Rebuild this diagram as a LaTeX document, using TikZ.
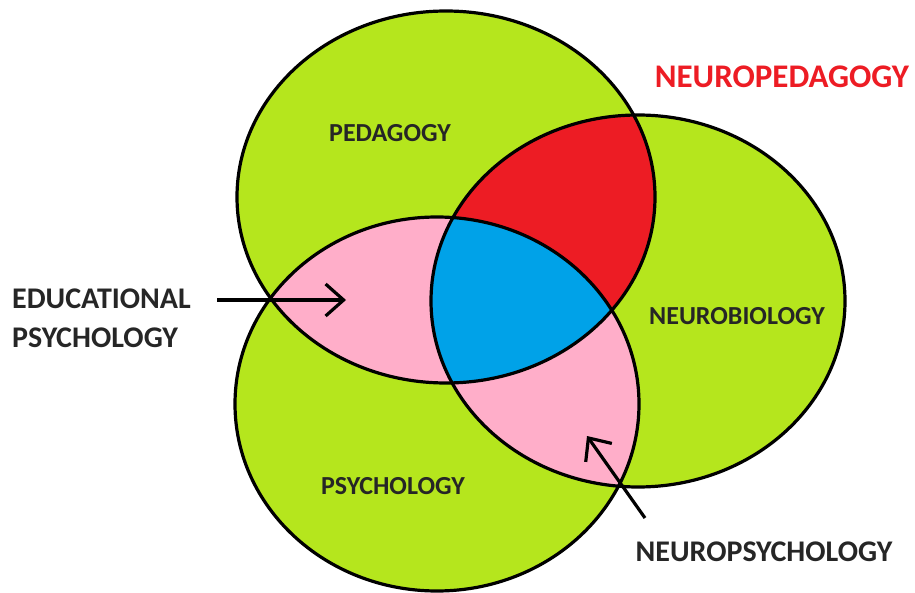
\documentclass[tikz,border=0pt]{standalone}
\usepackage{fontspec}
\setmainfont{Carlito}
\usetikzlibrary{arrows.meta}

\definecolor{lime}{RGB}{181,230,29}
\definecolor{paintred}{RGB}{237,28,36}
\definecolor{paintblue}{RGB}{0,162,232}
\definecolor{paintpink}{RGB}{255,174,201}
\definecolor{labelgray}{RGB}{38,38,38}

\def\pedagogy{(446,197) ellipse [x radius=209pt, y radius=186pt]}
\def\neurobio{(638,301) ellipse [x radius=207pt, y radius=186pt]}
\def\psychology{(437,404) ellipse [x radius=202pt, y radius=187pt]}

\begin{document}
\begin{tikzpicture}[x=1pt, y=-1pt,
	rim/.style={draw=black, line width=3.2pt},
	inlabel/.style={font=\bfseries\fontsize{26}{30}\selectfont, text=labelgray, inner sep=0pt},
	outlabel/.style={font=\bfseries\fontsize{30}{39}\selectfont, text=labelgray, inner sep=0pt, align=left},
	pointer/.style={draw=black, line width=3.2pt, -{Straight Barb[length=18pt, width=32pt, line width=3.2pt]}}]
	\useasboundingbox (0,0) rectangle (915,593);
	
	% green discs
	\fill[lime] \pedagogy;
	\fill[lime] \neurobio;
	\fill[lime] \psychology;
	
	% overlaps
	\begin{scope}
		\clip \pedagogy;
		\fill[paintred] \neurobio;
	\end{scope}
	\begin{scope}
		\clip \psychology;
		\fill[paintpink] \pedagogy;
		\fill[paintpink] \neurobio;
	\end{scope}
	\begin{scope}
		\clip \pedagogy;
		\clip \neurobio;
		\fill[paintblue] \psychology;
	\end{scope}
	
	\draw[rim] \pedagogy;
	\draw[rim] \neurobio;
	\draw[rim] \psychology;
	
	\node[inlabel] (ped) at (390,133) {PEDAGOGY};
	\node[inlabel] (nbio) at (737,316) {NEUROBIOLOGY};
	\node[inlabel] (psy) at (393,486) {PSYCHOLOGY};
	
	\node[font=\bfseries\fontsize{33}{40}\selectfont, text=paintred, inner sep=0pt] (npeda) at (782,77) {NEUROPEDAGOGY};
	\node[outlabel, anchor=west] (edu) at (12,318) {EDUCATIONAL\\PSYCHOLOGY};
	\node[outlabel] (npsy) at (764,552) {NEUROPSYCHOLOGY};
	
	\coordinate (eduTail) at (217,300);
	\coordinate (eduTip) at (346,300);
	\coordinate (npsyTail) at (645,518);
	\coordinate (npsyTip) at (587,436);
	
	\draw[pointer] (eduTail) -- (eduTip);
	\draw[pointer] (npsyTail) -- (npsyTip);
\end{tikzpicture}
\end{document}
